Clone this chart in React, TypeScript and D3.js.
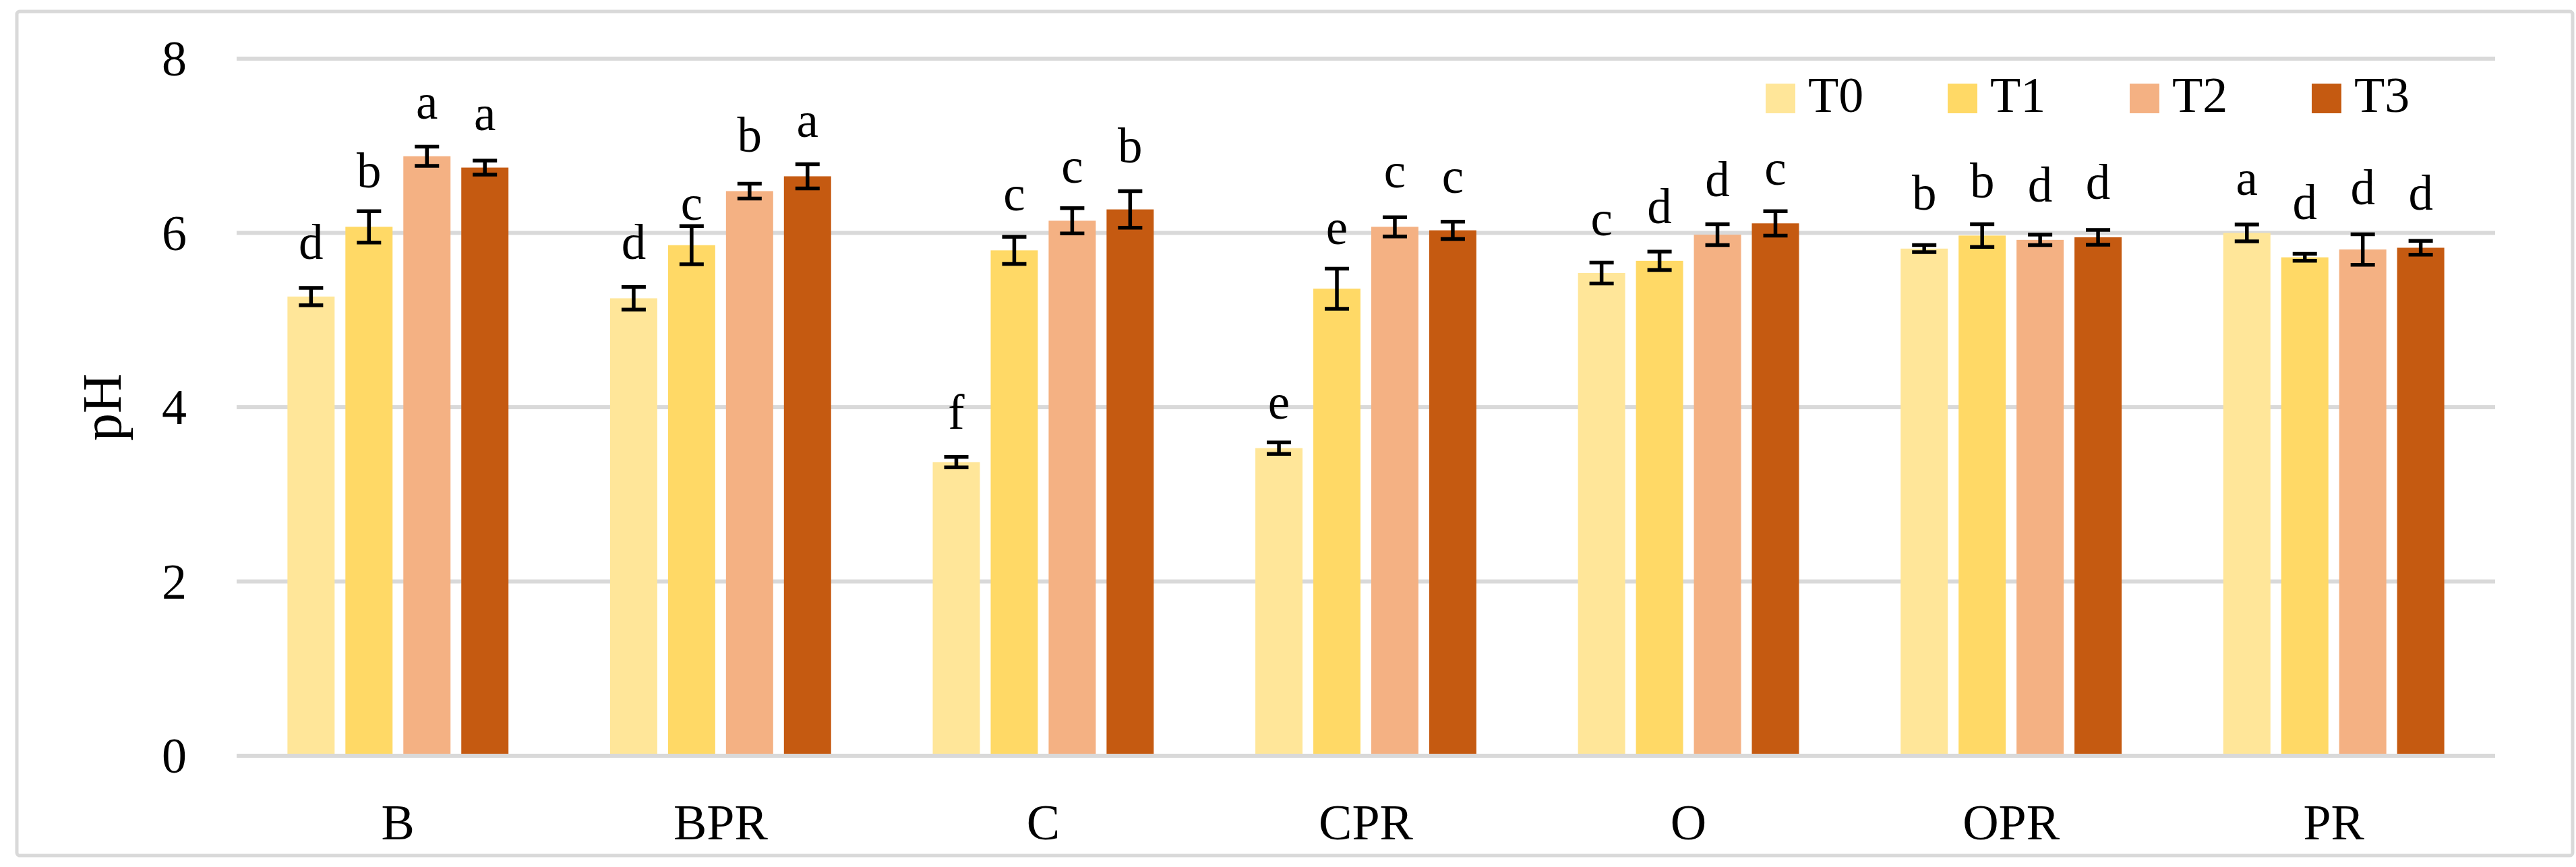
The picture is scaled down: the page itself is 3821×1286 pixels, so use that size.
import React from "react";
import * as d3 from "d3";

const categories = ["B", "BPR", "C", "CPR", "O", "OPR", "PR"];
const series = ["T0", "T1", "T2", "T3"];
const colors = ["#FFE699", "#FFD966", "#F4B183", "#C55A11"];

// mean pH per category, per series
const T0 = [5.27, 5.25, 3.37, 3.53, 5.54, 5.82, 6.0];
const T1 = [6.07, 5.86, 5.8, 5.36, 5.68, 5.97, 5.72];
const T2 = [6.88, 6.48, 6.14, 6.07, 5.98, 5.92, 5.81];
const T3 = [6.75, 6.65, 6.27, 6.03, 6.11, 5.95, 5.83];

// error (± SD)
const E0 = [0.1, 0.13, 0.06, 0.065, 0.12, 0.04, 0.097];
const E1 = [0.18, 0.22, 0.155, 0.23, 0.105, 0.13, 0.04];
const E2 = [0.11, 0.085, 0.145, 0.11, 0.12, 0.06, 0.175];
const E3 = [0.08, 0.14, 0.21, 0.1, 0.14, 0.085, 0.08];

// significance letters
const L0 = ["d", "d", "f", "e", "c", "b", "a"];
const L1 = ["b", "c", "c", "e", "d", "b", "d"];
const L2 = ["a", "b", "c", "c", "d", "d", "d"];
const L3 = ["a", "a", "b", "c", "c", "d", "d"];

// letter baseline level (pH units)
const LY0 = [5.7, 5.7, 3.75, 3.87, 5.97, 6.27, 6.44];
const LY1 = [6.52, 6.15, 6.26, 5.87, 6.11, 6.41, 6.16];
const LY2 = [7.31, 6.93, 6.58, 6.52, 6.42, 6.36, 6.33];
const LY3 = [7.18, 7.1, 6.81, 6.46, 6.55, 6.39, 6.27];

const yTicks = [0, 2, 4, 6, 8];
const yLabel = "pH";

const values = [T0, T1, T2, T3];
const errors = [E0, E1, E2, E3];
const letters = [L0, L1, L2, L3];
const letterY = [LY0, LY1, LY2, LY3];

const W = 3821;
const H = 1286;
const FONT = "'Liberation Serif', 'Times New Roman', serif";
const GRID = "#d9d9d9";

export default function App() {
  const left = 351;
  const right = 3701;
  const top = 87;
  const bottom = 1121;

  const x = d3
    .scaleBand<string>()
    .domain(categories)
    .range([left, right])
    .paddingInner(0.315)
    .paddingOuter(0.1575);
  const bw = x.bandwidth();
  const xs = d3
    .scaleBand<string>()
    .domain(series)
    .range([0, bw])
    .paddingInner(0.186)
    .paddingOuter(0);
  const y = d3.scaleLinear().domain([0, 8]).range([bottom, top]);
  const capHalf = 18;

  return (
    <svg
      width={W}
      height={H}
      style={{ position: "absolute", left: 0, top: 0, background: "#fff" }}
      fontFamily={FONT}
    >
      <rect x={0} y={0} width={W} height={H} fill="#fff" />
      <rect
        x={25}
        y={17}
        width={3791}
        height={1252}
        rx={4}
        fill="#fff"
        stroke={GRID}
        strokeWidth={5}
      />
      {yTicks.map((t) => (
        <g key={t}>
          <line x1={left} x2={right} y1={y(t)} y2={y(t)} stroke={GRID} strokeWidth={6} />
          <text x={277} y={y(t) + 25} textAnchor="end" fontSize={74} fill="#000">
            {t}
          </text>
        </g>
      ))}
      <text
        transform={`translate(179, ${(top + bottom) / 2}) rotate(-90)`}
        textAnchor="middle"
        fontSize={82}
        fill="#000"
      >
        {yLabel}
      </text>
      {categories.map((c, ci) => (
        <g key={c}>
          {series.map((s, si) => {
            const v = values[si][ci];
            const e = errors[si][ci];
            const bx = (x(c) as number) + (xs(s) as number);
            const cx = bx + xs.bandwidth() / 2;
            return (
              <g key={s}>
                <rect
                  x={bx}
                  y={y(v)}
                  width={xs.bandwidth()}
                  height={y(0) - y(v) - 3}
                  fill={colors[si]}
                />
                <line x1={cx} x2={cx} y1={y(v + e)} y2={y(v - e)} stroke="#000" strokeWidth={5.5} />
                <line x1={cx - capHalf} x2={cx + capHalf} y1={y(v + e)} y2={y(v + e)} stroke="#000" strokeWidth={5.5} />
                <line x1={cx - capHalf} x2={cx + capHalf} y1={y(v - e)} y2={y(v - e)} stroke="#000" strokeWidth={5.5} />
                <text x={cx} y={y(letterY[si][ci])} textAnchor="middle" fontSize={73} fill="#000">
                  {letters[si][ci]}
                </text>
              </g>
            );
          })}
          <text
            x={(x(c) as number) + bw / 2}
            y={1245}
            textAnchor="middle"
            fontSize={74}
            fill="#000"
          >
            {c}
          </text>
        </g>
      ))}
      {series.map((s, si) => (
        <g key={s} transform={`translate(${2619 + si * 270}, 124)`}>
          <rect x={0} y={0} width={44} height={44} fill={colors[si]} />
          <text x={63} y={42} fontSize={74} fill="#000">
            {s}
          </text>
        </g>
      ))}
    </svg>
  );
}
